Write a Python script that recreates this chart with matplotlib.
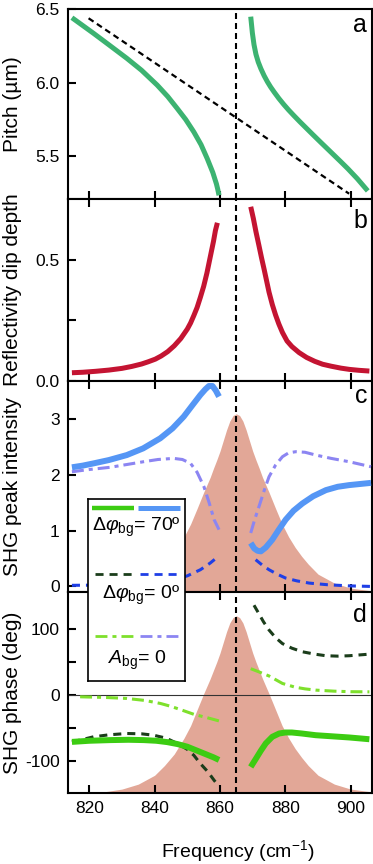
import matplotlib
matplotlib.use("Agg")
import matplotlib.pyplot as plt

plt.rcParams['font.family'] = ['Liberation Sans', 'DejaVu Sans']
plt.rcParams['mathtext.fontset'] = 'custom'
plt.rcParams['mathtext.rm'] = 'Liberation Sans'
plt.rcParams['mathtext.it'] = 'Liberation Sans:italic'
plt.rcParams['mathtext.bf'] = 'Liberation Sans:bold'
plt.rcParams['lines.scale_dashes'] = False

#############################
########### Data ############

# (a) pitch vs frequency, two branches + uncoupled line
freq_a_lo = [814.7, 818, 821.3, 826, 831.5, 836, 840.8, 844, 846.9, 849.5, 852.0, 854.2, 856.1, 857.8, 858.9, 859.3, 859.7]
pitch_a_lo = [6.441, 6.388, 6.335, 6.257, 6.165, 6.084, 5.983, 5.906, 5.825, 5.75, 5.665, 5.579, 5.484, 5.39, 5.313, 5.277, 5.235]
freq_a_hi = [869.4, 869.9, 870.4, 871.0, 871.7, 872.5, 873.5, 874.5, 875.5, 876.6, 878, 879.5, 881, 882.7,
             884.5, 886.5, 888.5, 890.9, 893, 895, 897, 899.1, 902, 905.2]
pitch_a_hi = [6.448, 6.338, 6.258, 6.192, 6.14, 6.095, 6.047, 6.006, 5.97, 5.935, 5.893, 5.852, 5.814, 5.774,
              5.733, 5.689, 5.645, 5.593, 5.548, 5.505, 5.462, 5.416, 5.348, 5.265]
freq_a_line = [819.8, 899.5]
pitch_a_line = [6.437, 5.246]

# (b) reflectivity dip depth
freq_b_lo = [814.7, 818, 822, 826, 830, 833, 836, 838, 840.2, 842, 844, 846, 848, 850, 851, 852, 853, 854,
             855, 856, 857, 858, 858.6, 859.2]
dip_b_lo = [0.034, 0.036, 0.040, 0.045, 0.052, 0.060, 0.070, 0.079, 0.09, 0.103, 0.121, 0.145, 0.175, 0.214,
            0.239, 0.27, 0.303, 0.345, 0.39, 0.445, 0.51, 0.575, 0.62, 0.652]
freq_b_hi = [869.4, 870.2, 871.0, 871.9, 872.7, 873.5, 874.3, 875.0, 876, 877, 878, 879.1, 880.5, 882, 884.2,
             886.5, 889, 891.4, 894, 897, 899.5, 902.5, 905.7]
dip_b_hi = [0.718, 0.67, 0.615, 0.559, 0.508, 0.46, 0.41, 0.366, 0.315, 0.272, 0.235, 0.2, 0.165, 0.142, 0.117,
            0.097, 0.081, 0.069, 0.061, 0.053, 0.048, 0.044, 0.041]

# shaded pulse spectrum (c and d)
shade_freq = [813.5, 820, 825, 830, 835, 840, 843, 846, 849, 851, 853, 855, 857, 858, 859, 860, 861, 862, 863, 864,
              865,
              866, 867, 868, 869, 870, 871, 872, 873, 875, 877, 879, 881, 883, 885, 887, 890, 895, 900, 906.5]
shade_c = [-0.1, -0.09, -0.07, -0.03, 0.06, 0.22, 0.40, 0.60, 0.89, 1.12, 1.40, 1.69, 1.96, 2.12, 2.27, 2.43, 2.62,
           2.81, 2.97, 3.07,
           3.10,
           3.07, 2.97, 2.81, 2.62, 2.43, 2.27, 2.12, 1.96, 1.69, 1.40, 1.12, 0.89, 0.70, 0.54, 0.40, 0.22, 0.06,
           -0.03, -0.08]
shade_d = [-148, -147.5, -145.9, -142.1, -134.6, -121.2, -106.5, -89.0, -64.9, -46.2, -22.0, 2.1, 24.9, 37.5, 50.0,
           63.7, 79.8, 95.9, 109.3, 117.3,
           120,
           117.3, 109.3, 95.9, 79.8, 63.7, 50.0, 37.5, 24.9, 2.1, -22.0, -46.2, -64.9, -81.0, -94.4, -106.5, -121.2,
           -134.6, -142.1, -146.4]

# (c) SHG peak intensity
freq_c_70_lo = [814.7, 818, 821.3, 826, 831.5, 836.5, 841.7, 845.5, 848.9, 851.5, 854.0, 855.5, 856.6, 857.7, 858.7, 859.7]
int_c_70_lo = [2.14, 2.17, 2.21, 2.27, 2.36, 2.48, 2.66, 2.84, 3.05, 3.25, 3.44, 3.54, 3.6, 3.6, 3.52, 3.41]
freq_c_70_hi = [869.4, 870.5, 871.5, 872.5, 874, 876.0, 878, 880.1, 882.5, 885.2, 888.5, 892.4, 896, 899.5, 906.2]
int_c_70_hi = [0.78, 0.68, 0.64, 0.63, 0.7, 0.84, 1.02, 1.2, 1.36, 1.49, 1.62, 1.73, 1.79, 1.82, 1.86]
freq_c_0_lo = [814.7, 825, 835, 840, 845.8, 850, 854, 857, 859.7]
int_c_0_lo = [0.02, 0.025, 0.04, 0.06, 0.12, 0.19, 0.3, 0.42, 0.55]
freq_c_0_hi = [870.9, 873, 875, 877.5, 880.1, 883.5, 887.3, 893, 899.5, 906.2]
int_c_0_hi = [0.48, 0.38, 0.3, 0.22, 0.15, 0.1, 0.06, 0.03, 0.01, 0.0]
freq_c_a0_lo = [814.7, 820, 826.4, 831.5, 836.6, 841, 845.8, 848.5, 851.0, 853, 855.1, 856.7, 858.2, 859.7]
int_c_a0_lo = [2.06, 2.1, 2.14, 2.19, 2.24, 2.28, 2.30, 2.28, 2.21, 2.05, 1.79, 1.5, 1.2, 1.02]
freq_c_a0_hi = [869.4, 870.6, 871.9, 873.5, 875, 877, 879.1, 881, 883.2, 886, 889.3, 894, 899.5, 906.2]
int_c_a0_hi = [0.96, 1.2, 1.43, 1.72, 1.97, 2.18, 2.33, 2.4, 2.42, 2.41, 2.36, 2.3, 2.24, 2.15]

# (d) SHG phase (deg)
freq_d_70_lo = [814.7, 820, 826.4, 832, 836.7, 840.5, 843.8, 847, 850, 852, 854, 856, 858, 859.7]
ph_d_70_lo = [-70.7, -69, -68, -67.5, -68, -69, -71, -74, -78, -82, -86, -90, -94, -98]
freq_d_70_hi = [869.4, 871, 872.5, 874, 876, 878.1, 880, 882, 885, 889.3, 895, 899.5, 905.7]
ph_d_70_hi = [-108.6, -96, -84, -73, -63, -58, -56.5, -56.5, -58, -60.6, -62.5, -64, -66.7]
freq_d_0_lo = [814.7, 818, 821.3, 826, 831.5, 836, 839.7, 843.5, 846.9, 850, 852, 854, 856.3, 858.2, 859.7]
ph_d_0_lo = [-70.7, -67, -63, -60, -58, -58.5, -60.6, -65, -73, -82, -91, -103.5, -116, -128.8, -138]
freq_d_0_hi = [870.4, 871.8, 873.3, 875, 877, 879.1, 882, 885.2, 889, 892.4, 896, 899.5, 905.7]
ph_d_0_hi = [136, 124, 111, 98.5, 87, 78, 71, 65.6, 62, 59.6, 59, 59.6, 62]
freq_d_a0_lo = [817.2, 825, 831.5, 837, 841.8, 845, 848, 852, 856, 859.7]
ph_d_a0_lo = [-2.5, -3.5, -5, -8, -12.6, -17, -22, -29, -34, -39]
freq_d_a0_hi = [869.4, 872, 875, 879.1, 883, 886, 889.3, 895, 900, 905.7]
ph_d_a0_hi = [40, 35, 29, 17.7, 12, 9.5, 7.6, 6, 5.2, 5]

res_freq = 865
freq_ticks = [820, 840, 860, 880, 900]

##### end of data #####

c_green_a = '#3cb371'
c_red = '#c41432'
c_blue = '#5596f5'
c_blue_d = '#1f3fe6'
c_purple = '#8c85f2'
c_green = '#3ccc12'
c_green_dk = '#1b3d1b'
c_green_lt = '#7ee02c'
c_shade = '#e2a797'

ls_black = (0, (4.3, 2.9))
ls_dash = (0, (5.8, 4.3))
ls_dashdot = (0, (8.6, 3.6, 2.9, 3.6))

fig = plt.figure(figsize=(3.73, 8.64), dpi=100)


def box(top, bot):
    return [68 / 373, (864 - bot) / 864, 304 / 373, (bot - top) / 864]


def style(ax, top=True, labels=False):
    for s in ax.spines.values():
        s.set_linewidth(1.5)
    ax.set_xlim(813.5, 906.5)
    ax.set_xticks(freq_ticks)
    ax.tick_params(direction='in', length=5.5, width=1.5, labelsize=12.5, pad=6,
                   top=top, right=False, labelbottom=labels)
    ax.axvline(res_freq, color='k', ls=ls_black, lw=1.5, zorder=5)
    ax.yaxis.set_label_coords(-0.151, 0.5)


ax_a = fig.add_axes(box(9, 199))
ax_b = fig.add_axes(box(199, 381))
ax_c = fig.add_axes(box(381, 592))
ax_d = fig.add_axes(box(592, 793))

# (a)
ax_a.plot(freq_a_lo, pitch_a_lo, color=c_green_a, lw=3.6, solid_capstyle='butt')
ax_a.plot(freq_a_hi, pitch_a_hi, color=c_green_a, lw=3.6, solid_capstyle='butt')
ax_a.plot(freq_a_line, pitch_a_line, color='k', lw=1.6, ls=ls_black)
style(ax_a, top=False)
ax_a.set_ylim(5.21, 6.5)
ax_a.set_yticks([5.5, 6.0, 6.5])
ax_a.set_yticklabels(['5.5', '6.0', '6.5'])
ax_a.set_ylabel('Pitch (µm)', fontsize=15)
ax_a.text(0.984, 0.879, 'a', transform=ax_a.transAxes, ha='right', va='baseline', fontsize=18)

# (b)
ax_b.plot(freq_b_lo, dip_b_lo, color=c_red, lw=3.6, solid_capstyle='butt')
ax_b.plot(freq_b_hi, dip_b_hi, color=c_red, lw=3.6, solid_capstyle='butt')
style(ax_b)
ax_b.set_ylim(0, 0.75)
ax_b.set_yticks([0, 0.25, 0.5])
ax_b.set_yticklabels(['0.0', '', '0.5'])
ax_b.set_ylabel('Reflectivity dip depth', fontsize=15)
ax_b.text(0.984, 0.841, 'b', transform=ax_b.transAxes, ha='right', va='baseline', fontsize=18)

# (c)
ax_c.fill_between(shade_freq, -0.1, shade_c, color=c_shade, lw=0, zorder=1)
ax_c.plot(freq_c_a0_lo, int_c_a0_lo, color=c_purple, lw=2.2, ls=ls_dashdot, zorder=3)
ax_c.plot(freq_c_a0_hi, int_c_a0_hi, color=c_purple, lw=2.2, ls=ls_dashdot, zorder=3)
ax_c.plot(freq_c_0_lo, int_c_0_lo, color=c_blue_d, lw=2.2, ls=ls_dash, zorder=3)
ax_c.plot(freq_c_0_hi, int_c_0_hi, color=c_blue_d, lw=2.2, ls=ls_dash, zorder=3)
ax_c.plot(freq_c_70_lo, int_c_70_lo, color=c_blue, lw=4.3, solid_capstyle='butt', zorder=4)
ax_c.plot(freq_c_70_hi, int_c_70_hi, color=c_blue, lw=4.3, solid_capstyle='butt', zorder=4)
style(ax_c)
ax_c.set_ylim(-0.1, 3.69)
ax_c.set_yticks([0, 1, 2, 3])
ax_c.set_yticklabels(['0', '1', '2', '3'])
ax_c.set_ylabel('SHG peak intensity', fontsize=15)
ax_c.text(0.984, 0.896, 'c', transform=ax_c.transAxes, ha='right', va='baseline', fontsize=18)

# (d)
ax_d.fill_between(shade_freq, -148, shade_d, color=c_shade, lw=0, zorder=1)
ax_d.axhline(0, color='#333333', lw=0.8, zorder=2)
ax_d.plot(freq_d_a0_lo, ph_d_a0_lo, color=c_green_lt, lw=2.2, ls=ls_dashdot, zorder=3)
ax_d.plot(freq_d_a0_hi, ph_d_a0_hi, color=c_green_lt, lw=2.2, ls=ls_dashdot, zorder=3)
ax_d.plot(freq_d_0_lo, ph_d_0_lo, color=c_green_dk, lw=2.2, ls=ls_dash, zorder=3)
ax_d.plot(freq_d_0_hi, ph_d_0_hi, color=c_green_dk, lw=2.2, ls=ls_dash, zorder=3)
ax_d.plot(freq_d_70_lo, ph_d_70_lo, color=c_green, lw=4.3, solid_capstyle='butt', zorder=4)
ax_d.plot(freq_d_70_hi, ph_d_70_hi, color=c_green, lw=4.3, solid_capstyle='butt', zorder=4)
style(ax_d, labels=True)
ax_d.set_ylim(-148, 156)
ax_d.set_yticks([-100, -50, 0, 50, 100])
ax_d.set_yticklabels(['-100', '', '0', '', '100'])
ax_d.set_xticklabels([str(f) for f in freq_ticks])
ax_d.set_ylabel('SHG phase (deg)', fontsize=15)
ax_d.set_xlabel('Frequency (cm$^{-1}$)', fontsize=14)
ax_d.xaxis.set_label_coords(0.56, -0.222)
ax_d.text(0.984, 0.851, 'd', transform=ax_d.transAxes, ha='right', va='baseline', fontsize=18)

# legend box spanning c and d
lg = fig.add_axes([88 / 373, (864 - 681) / 864, 97 / 373, 182 / 864], zorder=10)
lg.set_xlim(0, 1)
lg.set_ylim(0, 1)
lg.set_xticks([])
lg.set_yticks([])
for s in lg.spines.values():
    s.set_linewidth(1.2)
lg.plot([0.04, 0.47], [0.949, 0.949], color=c_green, lw=3.2, solid_capstyle='butt')
lg.plot([0.52, 0.95], [0.949, 0.949], color=c_blue, lw=3.6, solid_capstyle='butt')
lg.text(0.495, 0.846, r'$\Delta\varphi_{\mathrm{bg}}$= 70º', ha='center', va='center', fontsize=14)
lg.plot([0.07, 0.47], [0.588, 0.588], color=c_green_dk, lw=2.0, ls=ls_dash)
lg.plot([0.54, 0.95], [0.588, 0.588], color=c_blue_d, lw=2.0, ls=ls_dash)
lg.text(0.546, 0.473, r'$\Delta\varphi_{\mathrm{bg}}$= 0º', ha='center', va='center', fontsize=14)
lg.plot([0.07, 0.47], [0.249, 0.249], color=c_green_lt, lw=2.0, ls=ls_dashdot)
lg.plot([0.54, 0.95], [0.249, 0.249], color=c_purple, lw=2.0, ls=ls_dashdot)
lg.text(0.505, 0.115, r'$A_{\mathrm{bg}}$= 0', ha='center', va='center', fontsize=14)

fig.savefig('out.png', dpi=100)
